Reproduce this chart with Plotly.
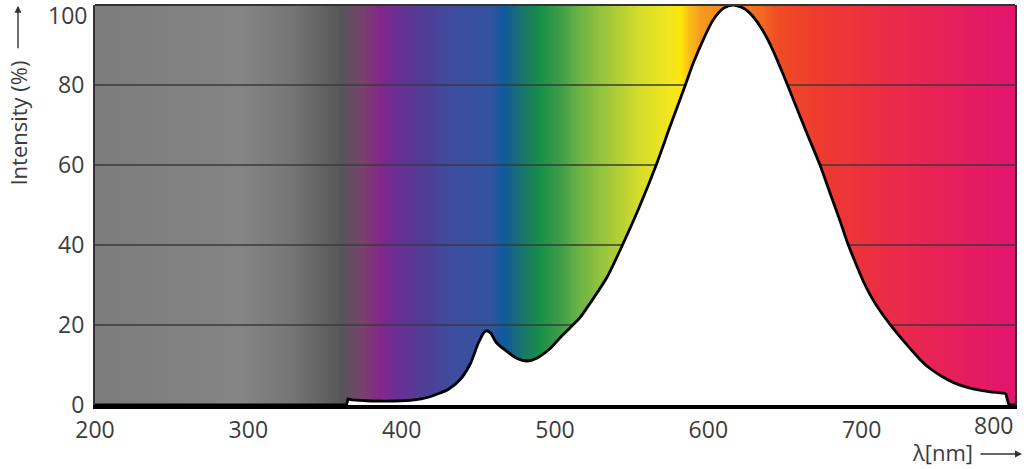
import numpy as np
import plotly.graph_objects as go

# ---- data ----
# baseline / UV ledge part of the spectrum (straight segments)
ledge_nm = [200, 300, 364, 365, 368, 380]
ledge_pct = [0, 0, 0, 1.5, 1.3, 1.0]

# main emission spectrum (smooth)
wavelength_nm = [380, 395, 407, 418, 425, 430, 438, 445, 450, 454, 456,
                 458, 462, 469, 475, 482, 488, 497, 505, 516, 523, 534, 544, 555, 566, 575,
                 585, 590, 597, 603, 610, 616, 623, 629, 636, 642, 649, 656, 664, 673, 680,
                 686, 691, 697, 701, 705, 710, 719, 728, 738, 745, 753, 760, 769, 777, 784,
                 790, 794]
intensity_pct = [1.0, 1.0, 1.2, 2.0, 3.0, 3.8, 6.3, 10.5, 15.5, 18.3, 18.5,
                 18.0, 15.5, 13.3, 11.7, 11.0, 11.7, 14.2, 17.5, 21.7, 25.5, 32, 40, 49.5, 60, 69.6,
                 80, 85.3, 91.6, 96.2, 99.2, 100, 99.2, 97.2, 93.3, 88.8, 82.5, 75.8, 68.2, 59.8, 52.3,
                 45.9, 40.3, 34.6, 31.0, 27.9, 24.7, 19.9, 15.7, 11.4, 9.0, 7.0, 5.6, 4.4, 3.7, 3.3,
                 3.05, 2.9]

# cut-off at the long-wave end (straight segments)
tail_nm = [794, 795.5, 796, 800]
tail_pct = [2.9, 1.0, 0, 0]

# background spectrum colour stops
spectrum_nm = [200, 295, 330, 360, 376, 386, 396, 418, 438, 458, 467, 477, 490, 503, 516,
               536, 555, 575, 582, 588, 595, 634, 647, 673, 725, 790, 800]
spectrum_col = ["#7b7c7b", "#848584", "#737473", "#565756", "#7a3e70", "#83278a", "#6a2f93",
                "#4b4097", "#3b4f9f", "#3353a0", "#0e5a9e", "#1b7070", "#169048", "#3d9c48",
                "#6db444", "#a6c93a", "#d6dd2a", "#f2e620", "#fde70a", "#f8b91a", "#f59a1e",
                "#f26a22", "#ef4a25", "#ee3a2f", "#e9294b", "#e3176a", "#e2156c"]

x_ticks = [200, 300, 400, 500, 600, 700]
x_last_tick = 800
y_ticks = [0, 20, 40, 60, 80]
y_top_tick = 100
grid_levels = [20, 40, 60, 80]

X_MIN, X_MAX = 200, 800
Y_MIN, Y_MAX = 0, 100

FONT = "Open Sans"
TXT = "#3c3c3c"

fig = go.Figure()

# gradient background as heatmap
lam = np.arange(X_MIN, X_MAX + 1, 1)
cscale = [[(w - X_MIN) / (X_MAX - X_MIN), c] for w, c in zip(spectrum_nm, spectrum_col)]
fig.add_trace(go.Heatmap(
    x=lam, y=[Y_MIN, Y_MAX], z=[lam, lam], zmin=X_MIN, zmax=X_MAX,
    colorscale=cscale, showscale=False, hoverinfo="skip"))

# grid lines (drawn over gradient, under the white area)
gx, gy = [], []
for g in grid_levels:
    gx += [X_MIN, X_MAX, None]
    gy += [g, g, None]
fig.add_trace(go.Scatter(x=gx, y=gy, mode="lines",
                         line=dict(color="#3a3a3a", width=1.5),
                         hoverinfo="skip", showlegend=False))

# spectrum curve pieces
for xs, ys, shp in [(ledge_nm, ledge_pct, "linear"),
                    (wavelength_nm, intensity_pct, "spline"),
                    (tail_nm, tail_pct, "linear")]:
    line = dict(color="black", width=2.8, shape=shp)
    if shp == "spline":
        line["smoothing"] = 0.7
    fig.add_trace(go.Scatter(x=xs, y=ys, mode="lines", fill="tozeroy", fillcolor="white",
                             line=line, hoverinfo="skip", showlegend=False))

fig.update_layout(
    width=1024, height=469,
    margin=dict(l=95, r=9, t=5, b=64),
    paper_bgcolor="white", plot_bgcolor="white",
    showlegend=False,
    font=dict(family=FONT, color=TXT, size=23),
)
fig.update_xaxes(range=[X_MIN, X_MAX], tickvals=x_ticks, ticktext=[str(v) for v in x_ticks],
                 showgrid=False, zeroline=False, showline=True, linecolor="black", linewidth=3.5,
                 ticks="", ticklabelstandoff=2,
                 tickfont=dict(family=FONT, size=23, color=TXT))
fig.update_yaxes(range=[Y_MIN, Y_MAX], tickvals=y_ticks, ticktext=[str(v) for v in y_ticks],
                 showgrid=False, zeroline=False, showline=True, mirror=True,
                 linecolor="#333333", linewidth=2, ticks="", ticklabelstandoff=4,
                 tickfont=dict(family=FONT, size=23, color=TXT))

# top border
fig.add_shape(type="line", xref="paper", yref="paper", x0=0, x1=1, y0=1, y1=1,
              line=dict(color="#333333", width=2), layer="above")

# edge tick labels
fig.add_annotation(x=x_last_tick, xref="x", y=0, yref="paper", text=str(x_last_tick),
                   xanchor="right", yanchor="top", showarrow=False, yshift=-2,
                   font=dict(family=FONT, size=23, color=TXT))
fig.add_annotation(x=0, xref="paper", y=y_top_tick, yref="y", text=str(y_top_tick),
                   xanchor="right", yanchor="middle", showarrow=False, xshift=-6, yshift=-10,
                   font=dict(family=FONT, size=23, color=TXT))

# axis titles with arrows
fig.add_annotation(x=-0.0837, xref="paper", y=0.706, yref="paper", text="Intensity (%)",
                   xanchor="center", yanchor="middle",
                   textangle=-90, showarrow=False, font=dict(family=FONT, size=22, color=TXT))
fig.add_annotation(x=-0.0837, xref="paper", y=0.998, yref="paper", text="", showarrow=True,
                   ax=0, ay=44, arrowhead=2, arrowsize=1, arrowwidth=1.4, arrowcolor="#333333")
fig.add_annotation(x=0.9217, xref="paper", y=-0.1175, yref="paper", text="λ[nm]",
                   xanchor="center", yanchor="middle",
                   showarrow=False, font=dict(family=FONT, size=22, color=TXT))
fig.add_annotation(x=1.0076, xref="paper", y=-0.1225, yref="paper", text="", showarrow=True,
                   ax=-43, ay=0, arrowhead=2, arrowsize=1, arrowwidth=1.4, arrowcolor="#333333")

fig.write_html("out.html", config={"displayModeBar": False},
               post_script="document.body.style.margin='0';")
